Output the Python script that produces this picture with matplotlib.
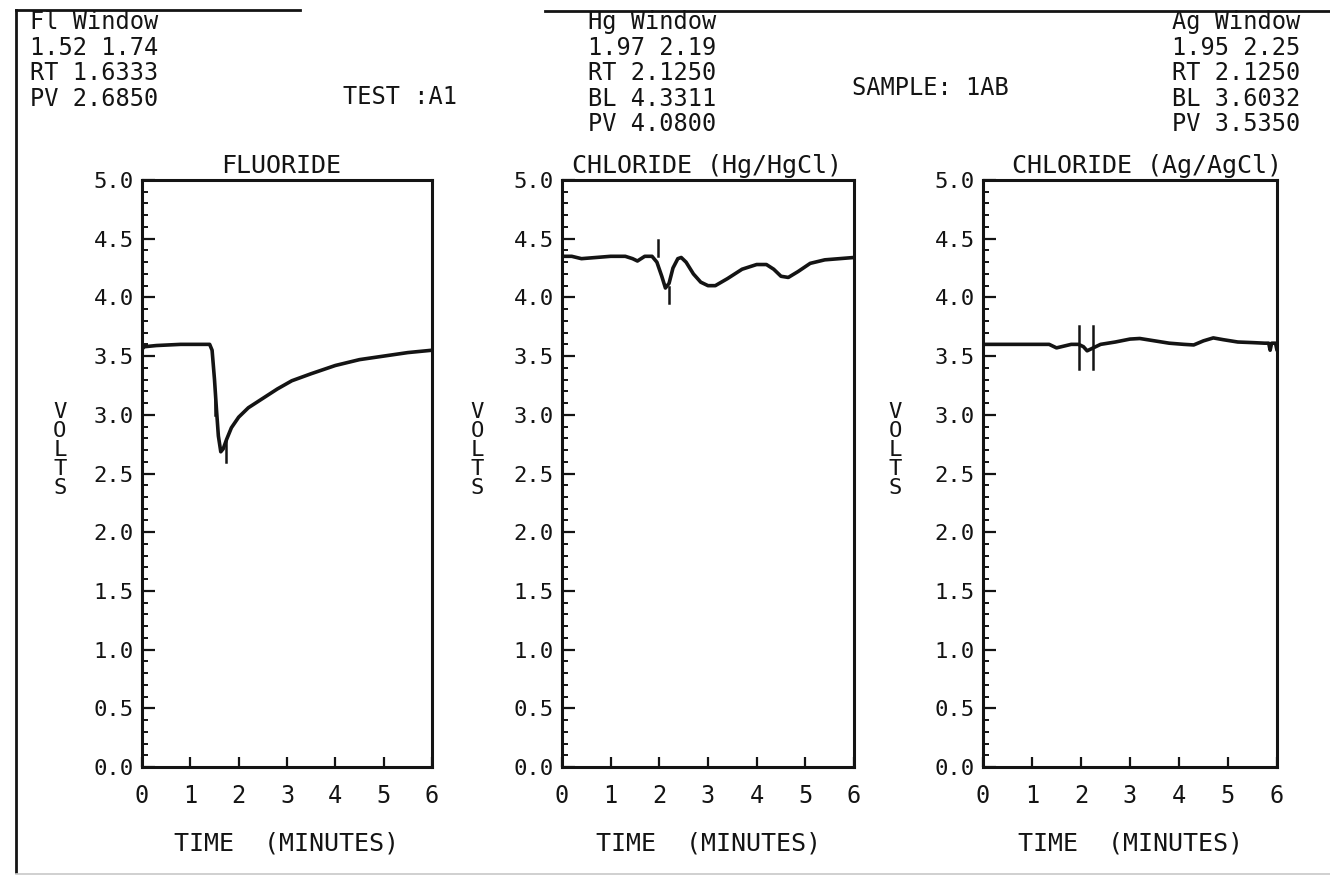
import matplotlib
matplotlib.use("Agg")
import matplotlib.pyplot as plt
from matplotlib.ticker import MultipleLocator, FormatStrFormatter

W, H, DPI = 1330, 885, 100
INK = "#141414"
plt.rcParams["font.family"] = ["DejaVu Sans Mono", "DejaVu Sans"]

# ---- run identification ----
test_id = "A1"
sample_id = "1AB"

# ---- fluoride electrode (minutes, volts) ----
fl_time = [0.00, 0.05, 0.30, 0.80, 1.20, 1.40, 1.45, 1.50, 1.54, 1.58, 1.63,
           1.68, 1.75, 1.85, 2.00, 2.20, 2.50, 2.80, 3.10, 3.50, 4.00, 4.50,
           5.00, 5.50, 6.00]
fl_volts = [3.56, 3.58, 3.59, 3.60, 3.60, 3.60, 3.55, 3.30, 3.05, 2.82, 2.685,
            2.71, 2.79, 2.89, 2.98, 3.06, 3.14, 3.22, 3.29, 3.35, 3.42, 3.47,
            3.50, 3.53, 3.55]
fl_window = [1.52, 1.74]
fl_rt, fl_pv = 1.6333, 2.6850
fl_marks = [(3.18, 3.00), (2.78, 2.60)]

# ---- chloride, Hg/HgCl electrode ----
hg_time = [0.00, 0.20, 0.40, 0.70, 1.00, 1.30, 1.45, 1.55, 1.70, 1.85, 1.95,
           2.05, 2.125, 2.20, 2.28, 2.38, 2.45, 2.55, 2.70, 2.85, 3.00, 3.15,
           3.40, 3.70, 4.00, 4.20, 4.35, 4.50, 4.65, 4.85, 5.10, 5.40, 5.70,
           6.00]
hg_volts = [4.35, 4.35, 4.33, 4.34, 4.35, 4.35, 4.33, 4.31, 4.35, 4.35, 4.30,
            4.18, 4.08, 4.12, 4.25, 4.33, 4.34, 4.30, 4.20, 4.13, 4.10, 4.10,
            4.16, 4.24, 4.28, 4.28, 4.24, 4.18, 4.17, 4.22, 4.29, 4.32, 4.33,
            4.34]
hg_window = [1.97, 2.19]
hg_rt, hg_bl, hg_pv = 2.1250, 4.3311, 4.0800
hg_marks = [(4.49, 4.35), (4.09, 3.95)]

# ---- chloride, Ag/AgCl electrode ----
ag_time = [0.00, 0.50, 1.00, 1.35, 1.50, 1.60, 1.80, 1.95, 2.05, 2.125, 2.25,
           2.40, 2.70, 3.00, 3.20, 3.50, 3.80, 4.10, 4.30, 4.50, 4.70, 4.90,
           5.20, 5.50, 5.75, 5.83, 5.86, 5.89, 5.97, 6.00]
ag_volts = [3.60, 3.60, 3.60, 3.60, 3.57, 3.58, 3.60, 3.60, 3.58, 3.545, 3.57,
            3.60, 3.62, 3.645, 3.65, 3.63, 3.61, 3.60, 3.595, 3.63, 3.655, 3.64,
            3.62, 3.615, 3.61, 3.61, 3.55, 3.61, 3.61, 3.55]
ag_window = [1.95, 2.25]
ag_rt, ag_bl, ag_pv = 2.1250, 3.6032, 3.5350
ag_marks = [(3.76, 3.39), (3.76, 3.39)]

y_ticks = [0.0, 0.5, 1.0, 1.5, 2.0, 2.5, 3.0, 3.5, 4.0, 4.5, 5.0]
x_ticks = [0, 1, 2, 3, 4, 5, 6]

fig = plt.figure(figsize=(W / DPI, H / DPI), dpi=DPI, facecolor="white")


def fx(px):
    return px / W


def fy(py):
    return 1 - py / H


def add_panel(left, right, top, bottom):
    return fig.add_axes([fx(left), fy(bottom), (right - left) / W, (bottom - top) / H])


def style_axes(ax):
    ax.set_xlim(0, 6)
    ax.set_ylim(0, 5)
    ax.set_facecolor("white")
    for sp in ax.spines.values():
        sp.set_linewidth(2.2)
        sp.set_color(INK)
    ax.set_xticks(x_ticks)
    ax.set_yticks(y_ticks)
    ax.yaxis.set_minor_locator(MultipleLocator(0.1))
    ax.yaxis.set_major_formatter(FormatStrFormatter("%.1f"))
    ax.tick_params(axis="y", which="major", direction="in", length=9, width=1.6,
                   color=INK, labelsize=16, labelcolor=INK, pad=6)
    ax.tick_params(axis="y", which="minor", direction="in", length=4.5, width=1.4,
                   color=INK)
    ax.tick_params(axis="x", which="major", direction="in", length=7, width=1.6,
                   color=INK, labelsize=17, labelcolor=INK, pad=12)
    ax.set_xlabel("TIME  (MINUTES)", fontsize=18, color=INK)
    ax.xaxis.set_label_coords(0.5, -0.13)
    ax.xaxis.label.set_va("center")
    ax.set_ylabel("V\nO\nL\nT\nS", fontsize=16, color=INK, rotation=0,
                  linespacing=0.95)
    ax.yaxis.label.set_va("center")


def draw_trace(ax, t, v, window, marks):
    ax.plot(t, v, color=INK, lw=2.6, solid_joinstyle="round", solid_capstyle="round")
    for tw, (v_hi, v_lo) in zip(window, marks):
        ax.plot([tw, tw], [v_lo, v_hi], color=INK, lw=1.8)


panels = [
    (142, 432, fl_time, fl_volts, fl_window, fl_marks, "FLUORIDE", 0.479, -0.283),
    (562, 854, hg_time, hg_volts, hg_window, hg_marks, "CHLORIDE (Hg/HgCl)", 0.497, -0.291),
    (983, 1277, ag_time, ag_volts, ag_window, ag_marks, "CHLORIDE (Ag/AgCl)", 0.558, -0.299),
]
for left, right, t, v, window, marks, title, tx, lx in panels:
    ax = add_panel(left, right, 180, 767)
    style_axes(ax)
    ax.yaxis.set_label_coords(lx, 0.54)
    draw_trace(ax, t, v, window, marks)
    ax.text(tx, 1 + 14 / 587, title, transform=ax.transAxes, ha="center",
            va="center", fontsize=18, color=INK)

# ---- header blocks ----
TOP = 10


def header_block(cx, lines):
    fig.text(fx(cx), fy(TOP), "\n".join(lines), ha="center", va="top",
             multialignment="left", fontsize=17, color=INK, linespacing=1.08)


header_block(94, ["Fl Window",
                  f"{fl_window[0]:.2f} {fl_window[1]:.2f}",
                  f"RT {fl_rt:.4f}",
                  f"PV {fl_pv:.4f}"])
header_block(652, ["Hg Window",
                   f"{hg_window[0]:.2f} {hg_window[1]:.2f}",
                   f"RT {hg_rt:.4f}",
                   f"BL {hg_bl:.4f}",
                   f"PV {hg_pv:.4f}"])
header_block(1236, ["Ag Window",
                    f"{ag_window[0]:.2f} {ag_window[1]:.2f}",
                    f"RT {ag_rt:.4f}",
                    f"BL {ag_bl:.4f}",
                    f"PV {ag_pv:.4f}"])

fig.text(fx(400), fy(97), f"TEST :{test_id}", ha="center", va="center",
         fontsize=17, color=INK)
fig.text(fx(930), fy(88), f"SAMPLE: {sample_id}", ha="center",
         va="center", fontsize=17, color=INK)

# ---- page frame ----
frame = dict(color=INK, lw=2.0, transform=fig.transFigure)
fig.add_artist(plt.Line2D([fx(16), fx(16)], [fy(10), fy(872)], **frame))
fig.add_artist(plt.Line2D([fx(16), fx(300)], [fy(10), fy(10)], **frame))
fig.add_artist(plt.Line2D([fx(545), fx(1330)], [fy(11), fy(11)], **frame))
fig.add_artist(plt.Line2D([fx(16), fx(1330)], [fy(874), fy(874)], color="#c8c8c8",
                          lw=1.2, transform=fig.transFigure))

fig.savefig("out.png", dpi=DPI, facecolor="white")
